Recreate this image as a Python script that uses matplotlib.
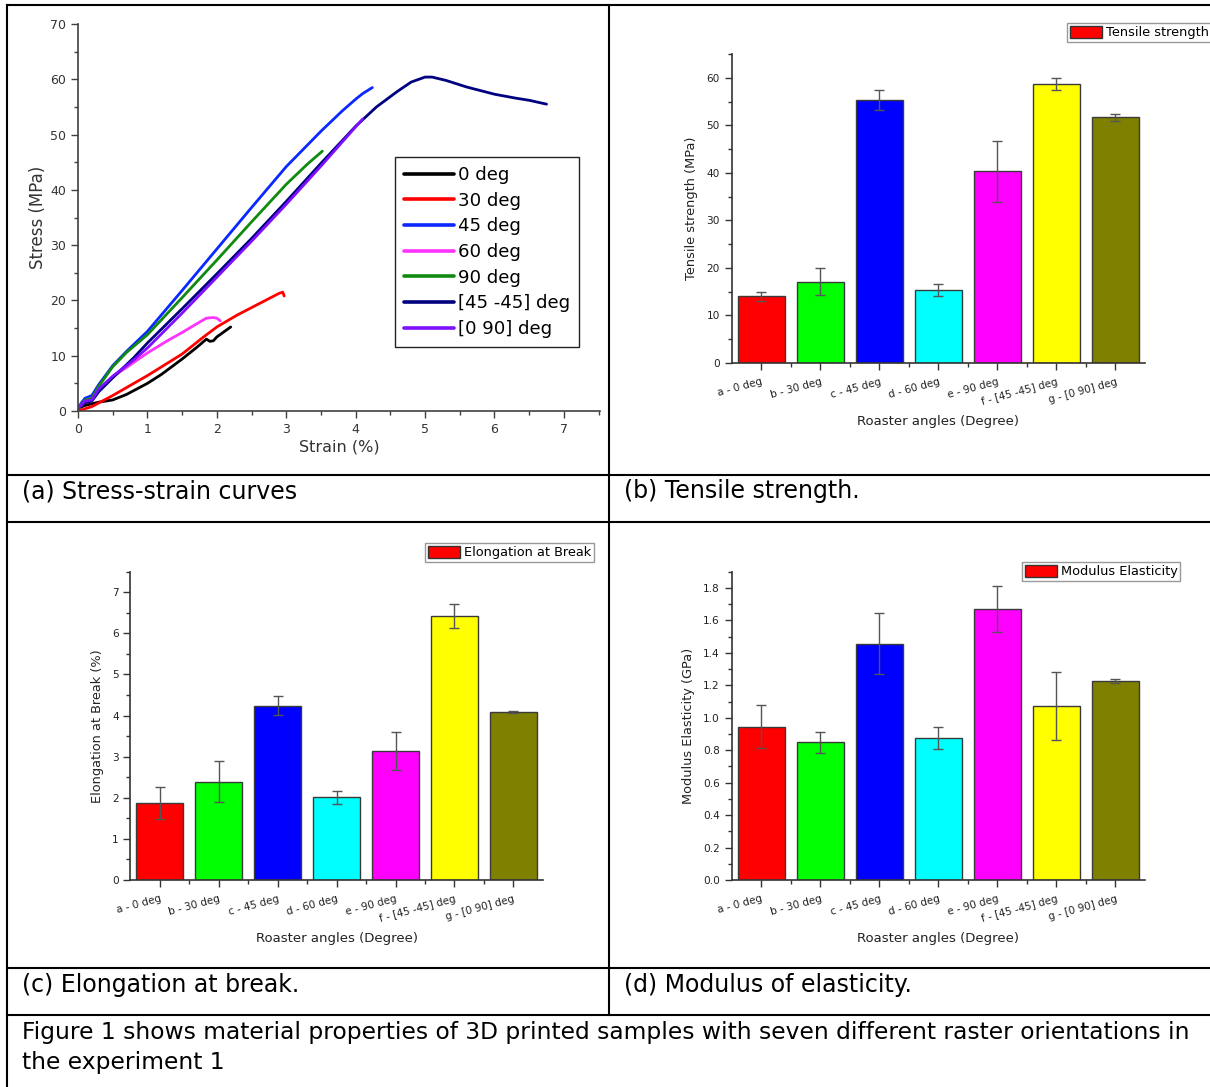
import matplotlib
matplotlib.use("Agg")
import matplotlib.pyplot as plt
from matplotlib.lines import Line2D
from matplotlib.patches import Patch
from matplotlib.ticker import MultipleLocator, FormatStrFormatter

W, H = 1210, 1087
plt.rcParams["font.family"] = ["DejaVu Sans"]

# ---- (a) stress-strain curves ----
CURVE_LABELS = ["0 deg", "30 deg", "45 deg", "60 deg", "90 deg", "[45 -45] deg", "[0 90] deg"]
CURVE_COLORS = ["#000000", "#ff0000", "#0a28ff", "#ff33ff", "#108a10", "#000080", "#7f10ff"]
strain_0 = [0, 0.1, 0.2, 0.3, 0.5, 0.7, 1.0, 1.2, 1.5, 1.7, 1.85, 1.9, 1.95, 2.0, 2.1, 2.2]
stress_0 = [0.5, 1.0, 1.3, 1.6, 2.0, 3.0, 5.0, 6.6, 9.4, 11.4, 13.0, 12.6, 12.7, 13.4, 14.3, 15.2]
strain_30 = [0, 0.2, 0.5, 1.0, 1.5, 1.8, 2.0, 2.3, 2.5, 2.7, 2.9, 2.95, 2.97]
stress_30 = [0, 0.8, 2.8, 6.4, 10.3, 13.3, 15.2, 17.4, 18.7, 20.0, 21.3, 21.5, 20.8]
strain_45 = [0, 0.05, 0.1, 0.2, 0.3, 0.5, 0.7, 1.0, 1.5, 2.0, 2.5, 3.0, 3.5, 3.8, 4.0, 4.1, 4.24]
stress_45 = [0.5, 1.5, 2.3, 2.8, 4.8, 8.2, 10.8, 14.4, 21.8, 29.3, 36.8, 44.2, 50.6, 54.2, 56.4, 57.4, 58.5]
strain_60 = [0, 0.1, 0.2, 0.3, 0.5, 0.7, 1.0, 1.3, 1.5, 1.7, 1.85, 1.95, 2.0, 2.05]
stress_60 = [0.5, 1.5, 2.0, 3.8, 6.2, 7.9, 10.5, 12.8, 14.2, 15.7, 16.8, 16.9, 16.8, 16.3]
strain_90 = [0, 0.1, 0.2, 0.3, 0.5, 0.7, 1.0, 1.5, 2.0, 2.5, 3.0, 3.3, 3.52]
stress_90 = [0.5, 2.0, 2.3, 4.5, 8.0, 10.6, 13.8, 20.5, 27.3, 34.2, 41.0, 44.6, 47.0]
strain_4545 = [0, 0.1, 0.2, 0.3, 0.5, 0.8, 1.0, 1.5, 2.0, 2.5, 3.0, 3.5, 4.0, 4.3, 4.6,
               4.8, 5.0, 5.1, 5.3, 5.6, 6.0, 6.3, 6.5, 6.75]
stress_4545 = [0.5, 1.5, 1.8, 3.5, 6.0, 9.6, 12.3, 18.5, 24.8, 31.2, 37.9, 44.8, 51.5, 55.0,
               57.8, 59.5, 60.4, 60.4, 59.8, 58.6, 57.3, 56.6, 56.2, 55.5]
strain_090 = [0, 0.1, 0.2, 0.3, 0.5, 0.8, 1.0, 1.5, 2.0, 2.5, 3.0, 3.5, 4.0, 4.1]
stress_090 = [0.5, 1.8, 2.0, 4.0, 6.3, 9.2, 11.4, 17.7, 24.2, 30.7, 37.4, 44.3, 51.4, 52.8]
STRAINS = [strain_0, strain_30, strain_45, strain_60, strain_90, strain_4545, strain_090]
STRESSES = [stress_0, stress_30, stress_45, stress_60, stress_90, stress_4545, stress_090]

# ---- bar panels ----
ANGLES = ["a - 0 deg", "b - 30 deg", "c - 45 deg", "d - 60 deg", "e - 90 deg",
          "f - [45 -45] deg", "g - [0 90] deg"]
BAR_COLORS = ["#ff0000", "#00ff00", "#0000ff", "#00ffff", "#ff00ff", "#ffff00", "#808000"]
tensile = [14.0, 17.1, 55.4, 15.3, 40.3, 58.7, 51.7]
tensile_err = [0.9, 2.9, 2.1, 1.3, 6.5, 1.2, 0.8]
elong = [1.88, 2.39, 4.24, 2.01, 3.13, 6.42, 4.09]
elong_err = [0.39, 0.5, 0.23, 0.15, 0.46, 0.3, 0.03]
modulus = [0.945, 0.848, 1.457, 0.873, 1.67, 1.07, 1.225]
modulus_err = [0.134, 0.063, 0.19, 0.067, 0.144, 0.21, 0.012]

CAPTIONS = ["(a) Stress-strain curves", "(b) Tensile strength.",
            "(c) Elongation at break.", "(d) Modulus of elasticity."]
FIG_CAPTION = ["Figure 1 shows material properties of 3D printed samples with seven different raster orientations in",
               "the experiment 1"]


def rect(l, t, r, b):
    return [l / W, 1 - b / H, (r - l) / W, (b - t) / H]


fig = plt.figure(figsize=(W / 100, H / 100), dpi=100)

# ---- panel (a) ----
ax = fig.add_axes(rect(78, 24, 600, 411))
for xs, ys, c, lab in zip(STRAINS, STRESSES, CURVE_COLORS, CURVE_LABELS):
    ax.plot(xs, ys, color=c, lw=2.0, label=lab, solid_capstyle="round")
ax.set_xlim(0, 7.52)
ax.set_ylim(0, 70)
ax.xaxis.set_major_locator(MultipleLocator(1))
ax.xaxis.set_minor_locator(MultipleLocator(0.5))
ax.yaxis.set_major_locator(MultipleLocator(10))
ax.yaxis.set_minor_locator(MultipleLocator(5))
for s in ["top", "right"]:
    ax.spines[s].set_visible(False)
for s in ["left", "bottom"]:
    ax.spines[s].set_color("#404040")
    ax.spines[s].set_linewidth(1.2)
ax.tick_params(which="major", direction="out", length=5, width=1, color="#404040",
               labelsize=9, labelcolor="#333333")
ax.tick_params(which="minor", direction="out", length=3, width=1, color="#404040")
ax.set_xlabel("Strain (%)", fontsize=11.5, color="#333333", labelpad=3)
ax.set_ylabel("Stress (MPa)", fontsize=12, color="#333333", labelpad=2)
leg = ax.legend(loc="upper left", bbox_to_anchor=(395 / W, 1 - 157 / H),
                bbox_transform=fig.transFigure, borderaxespad=0, fontsize=13.1,
                handlelength=2.75, handletextpad=0.2, labelspacing=0.42,
                borderpad=0.5, fancybox=False, framealpha=1, edgecolor="#222222")
leg.get_frame().set_linewidth(1.0)
for h in leg.get_lines():
    h.set_linewidth(2.6)


# ---- bar panels ----
def bar_panel(box, vals, errs, ylim, major, minor, fmt, ylabel, leg_label, leg_xy):
    a = fig.add_axes(rect(*box))
    x = list(range(len(vals)))
    a.bar(x, vals, width=0.8, color=BAR_COLORS, edgecolor="#3a3a3a", linewidth=1.0, zorder=2)
    a.errorbar(x, vals, yerr=errs, fmt="none", ecolor="#555555", elinewidth=1.0,
               capsize=3.5, capthick=1.0, zorder=3)
    a.set_xlim(-0.5, 6.5)
    a.set_ylim(*ylim)
    a.set_xticks(x)
    a.set_xticklabels(ANGLES, rotation=15, ha="right", rotation_mode="anchor")
    a.set_xticks([i + 0.5 for i in range(6)], minor=True)
    a.yaxis.set_major_locator(MultipleLocator(major))
    a.yaxis.set_minor_locator(MultipleLocator(minor))
    a.yaxis.set_major_formatter(FormatStrFormatter(fmt))
    for s in ["top", "right"]:
        a.spines[s].set_visible(False)
    for s in ["left", "bottom"]:
        a.spines[s].set_color("#333333")
        a.spines[s].set_linewidth(1.2)
    a.tick_params(which="major", direction="out", length=5, width=1, color="#333333",
                  labelsize=7.6, labelcolor="#222222")
    a.tick_params(axis="x", which="major", labelsize=7.5, pad=5)
    a.tick_params(which="minor", direction="out", length=3, width=1, color="#333333")
    a.set_xlabel("Roaster angles (Degree)", fontsize=9.5, color="#222222", labelpad=6)
    a.set_ylabel(ylabel, fontsize=9.3, color="#222222", labelpad=6)
    lg = a.legend(handles=[Patch(facecolor="#ff0000", edgecolor="#333333", label=leg_label)],
                  loc="upper left", bbox_to_anchor=(leg_xy[0] / W, 1 - leg_xy[1] / H),
                  bbox_transform=fig.transFigure, borderaxespad=0, fontsize=9.3,
                  handlelength=2.5, handleheight=1.1, handletextpad=0.3, borderpad=0.2,
                  fancybox=False, framealpha=1, edgecolor="#999999")
    lg.get_frame().set_linewidth(1.0)
    return a


bar_panel((731.7, 54.3, 1145, 362.7), tensile, tensile_err, (0, 65), 10, 5, "%d",
          "Tensile strength (MPa)", "Tensile strength", (1067, 23))
bar_panel((130.4, 571.7, 542.8, 880), elong, elong_err, (0, 7.5), 1, 0.5, "%d",
          "Elongation at Break (%)", "Elongation at Break", (425, 543))
bar_panel((731.7, 571.7, 1145, 880), modulus, modulus_err, (0, 1.9), 0.2, 0.1, "%.1f",
          "Modulus Elasticity (GPa)", "Modulus Elasticity", (1022, 562))

# ---- table grid ----
def hline(y, x0=7, x1=W):
    fig.add_artist(Line2D([x0 / W, x1 / W], [1 - y / H, 1 - y / H], color="black", lw=1.5))


def vline(x, y0, y1):
    fig.add_artist(Line2D([x / W, x / W], [1 - y0 / H, 1 - y1 / H], color="black", lw=1.5))


for y in [5, 475, 522, 968, 1015]:
    hline(y)
vline(7, 5, H)
vline(609, 5, 1015)

cap_pos = [(22, 491), (624, 491), (22, 985), (624, 985)]
for (cx, cy), txt in zip(cap_pos, CAPTIONS):
    fig.text(cx / W, 1 - cy / H, txt, fontsize=17, va="center", ha="left")
for cy, txt in zip([1033, 1063], FIG_CAPTION):
    fig.text(22 / W, 1 - cy / H, txt, fontsize=16.8, va="center", ha="left")

fig.savefig("out.png", dpi=100)
